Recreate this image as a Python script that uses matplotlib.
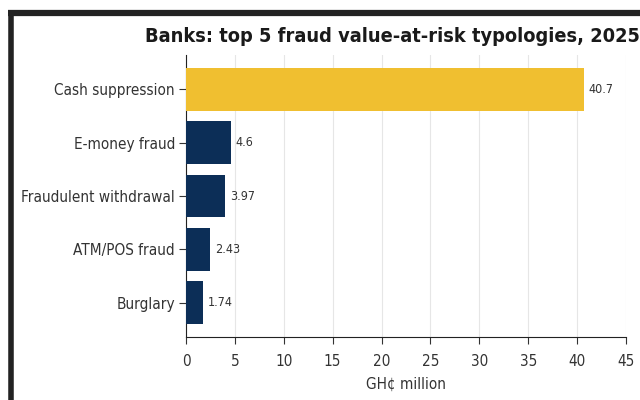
import matplotlib
matplotlib.use("Agg")
import matplotlib.pyplot as plt
from matplotlib import font_manager
from matplotlib.lines import Line2D

categories = ["Cash suppression", "E-money fraud", "Fraudulent withdrawal", "ATM/POS fraud", "Burglary"]
values = [40.7, 4.6, 3.97, 2.43, 1.74]
value_labels = ["40.7", "4.6", "3.97", "2.43", "1.74"]
xticks = [0, 5, 10, 15, 20, 25, 30, 35, 40, 45]
title = "Banks: top 5 fraud value-at-risk typologies, 2025"
xlabel = "GH¢ million"

# choose a condensed font if available
stretch = "normal"
for f in font_manager.fontManager.ttflist:
    if f.name == "DejaVu Sans" and "ondensed" in f.fname:
        stretch = "condensed"
        break
plt.rcParams["font.family"] = ["DejaVu Sans"]
plt.rcParams["font.stretch"] = stretch

YELLOW = "#F0BF30"
NAVY = "#0C2E57"
TXT = "#333333"

fig = plt.figure(figsize=(6.4, 4.0), dpi=100)
W, H = 640, 400
ax = fig.add_axes([186 / W, 1 - 337 / H, (626 - 186) / W, (337 - 55) / H])

colors = [YELLOW] + [NAVY] * (len(values) - 1)
ypos = list(range(len(categories)))
bars = ax.barh(ypos, values, height=0.8, color=colors, zorder=3)
ax.set_yticks(ypos)
ax.set_yticklabels(categories, fontsize=11, color=TXT)
ax.invert_yaxis()
ax.set_xlim(0, 45)
ax.set_xticks(xticks)
ax.tick_params(axis="x", labelsize=11, colors=TXT, length=5, pad=7)
ax.tick_params(axis="y", colors=TXT, length=5, pad=3)
ax.set_xlabel(xlabel, fontsize=11, color=TXT, labelpad=6)
ax.grid(axis="x", color="#e6e6e6", linewidth=0.8, zorder=0)
for s in ["top", "right"]:
    ax.spines[s].set_visible(False)
for s in ["left", "bottom"]:
    ax.spines[s].set_color("#222222")

for b, lab in zip(bars, value_labels):
    ax.text(b.get_width() + 0.5, b.get_y() + b.get_height() / 2, lab,
            va="center", ha="left", fontsize=9, color=TXT)

fig.text(145 / W, 1 - 37 / H, title, ha="left", va="center",
         fontsize=14.3, fontweight="bold", color="#1a1a1a")

# dark frame (top and left) as in the screenshot
fig.add_artist(Line2D([8 / W, 1.0], [1 - 13 / H, 1 - 13 / H], transform=fig.transFigure,
                      color="#222222", linewidth=4.5, solid_capstyle="butt"))
fig.add_artist(Line2D([10.5 / W, 10.5 / W], [0, 1 - 10 / H], transform=fig.transFigure,
                      color="#222222", linewidth=4.0, solid_capstyle="butt"))

fig.savefig("out.png", dpi=100)
